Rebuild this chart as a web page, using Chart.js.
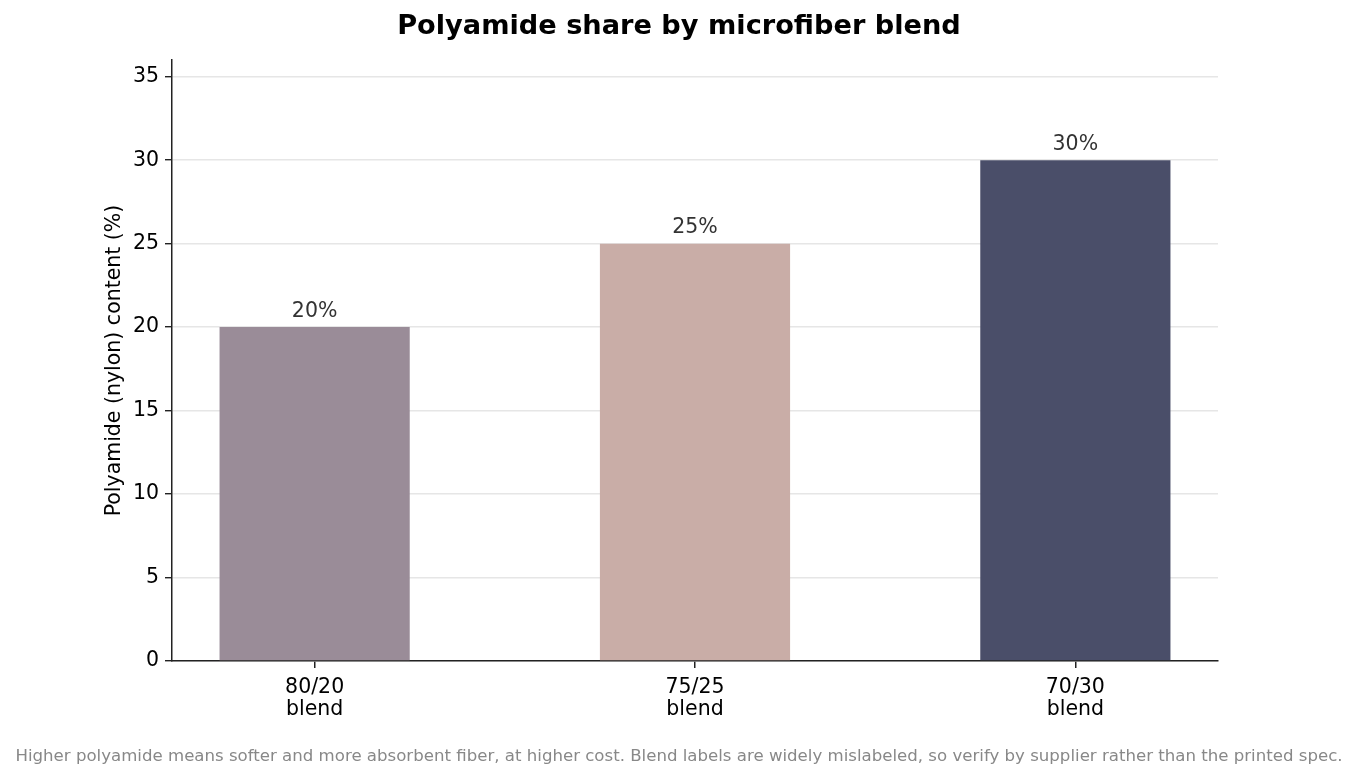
<!DOCTYPE html>
<html>
<head>
<meta charset="utf-8">
<title>Polyamide share by microfiber blend</title>
<script src="https://cdn.jsdelivr.net/npm/chart.js@4.4.1/dist/chart.umd.min.js"></script>
<style>
  html, body { margin: 0; padding: 0; background: #fff; }
  #wrap { width: 1358px; height: 781px; }
</style>
</head>
<body>
<div id="wrap"><canvas id="barChart"></canvas></div>
<script>
// Chart data
const blends = [["80/20", "blend"], ["75/25", "blend"], ["70/30", "blend"]];
const polyamidePct = [20, 25, 30];
const barColors = ["#9a8c98", "#c9ada7", "#4a4e69"];
const yTicks = [0, 5, 10, 15, 20, 25, 30, 35];

const FONT = "'DejaVu Sans', sans-serif";

// Value labels above the bars
const valueLabels = {
  id: "valueLabels",
  afterDatasetsDraw(chart) {
    const ctx = chart.ctx;
    const meta = chart.getDatasetMeta(0);
    ctx.save();
    ctx.font = "20.5px " + FONT;
    ctx.fillStyle = "#333333";
    ctx.textAlign = "center";
    ctx.textBaseline = "alphabetic";
    meta.data.forEach((bar, i) => {
      ctx.fillText(polyamidePct[i] + "%", bar.x, bar.y - 10.5);
    });
    ctx.restore();
  }
};

new Chart(document.getElementById("barChart"), {
  type: "bar",
  data: {
    datasets: [{
      data: polyamidePct.map((v, i) => ({ x: i, y: v })),
      backgroundColor: barColors,
      borderWidth: 0,
      categoryPercentage: 1,
      barPercentage: 0.5
    }]
  },
  options: {
    responsive: true,
    maintainAspectRatio: false,
    animation: false,
    layout: { padding: 0 },
    plugins: {
      legend: { display: false },
      tooltip: { enabled: false },
      title: {
        display: true,
        text: "Polyamide share by microfiber blend",
        color: "#000",
        font: { family: FONT, size: 27.2, weight: "bold" },
        padding: { top: 11, bottom: 16.4 }
      },
      subtitle: {
        display: true,
        position: "bottom",
        text: "Higher polyamide means softer and more absorbent fiber, at higher cost. Blend labels are widely mislabeled, so verify by supplier rather than the printed spec.",
        color: "#888888",
        font: { family: FONT, size: 16.6 },
        padding: { top: 10, bottom: 14 }
      }
    },
    scales: {
      x: {
        type: "linear",
        offset: false,
        min: -0.375,
        max: 2.375,
        afterBuildTicks: (scale) => { scale.ticks = blends.map((b, i) => ({ value: i })); },
        afterFit: (scale) => { scale.height = 781 - 661 - 43.9; },
        ticks: {
          color: "#000",
          font: { family: FONT, size: 20.5, lineHeight: 1.05 },
          padding: 9,
          autoSkip: false,
          maxRotation: 0,
          callback: (v) => blends[v]
        },
        grid: { offset: false, drawOnChartArea: false, drawTicks: true, tickLength: 7, tickColor: "#222", lineWidth: 1.5 },
        border: { color: "#222", width: 1.5 }
      },
      y: {
        min: 0,
        max: 36,
        afterBuildTicks: (scale) => { scale.ticks = yTicks.map(v => ({ value: v })); },
        afterFit: (scale) => { scale.width = 172; },
        ticks: {
          color: "#000",
          font: { family: FONT, size: 20.5 },
          padding: 6
        },
        grid: { color: "#e6e6e6", lineWidth: 1.4, tickLength: 7, tickColor: "#222" },
        border: { color: "#222", width: 1.5 },
        title: {
          display: true,
          text: "Polyamide (nylon) content (%)",
          color: "#000",
          font: { family: FONT, size: 20.5 },
          padding: { top: 102.5, bottom: 0 }
        }
      },
      // empty right-hand gutter so the plot ends where the reference does
      gutter: {
        type: "linear",
        position: "right",
        display: true,
        grid: { display: false },
        border: { display: false },
        ticks: { display: false },
        afterFit: (scale) => { scale.width = 1358 - 1218; }
      }
    }
  },
  plugins: [valueLabels]
});
</script>
</body>
</html>
